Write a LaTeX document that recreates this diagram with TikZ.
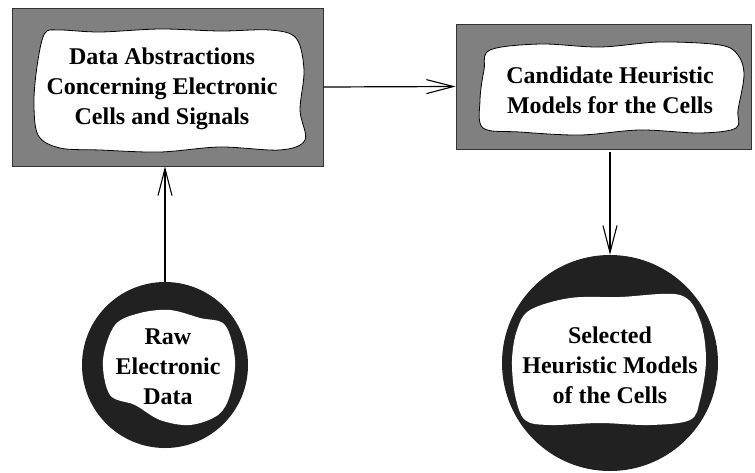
\documentclass[tikz,border=0pt]{standalone}
\usepackage{fontspec}
\setmainfont{Liberation Serif}
\usetikzlibrary{arrows.meta}
\tikzset{
  graybox/.style={draw=black!80, line width=0.8pt, fill=black!50, rectangle, inner sep=0pt},
  darkdisc/.style={fill=black!87, circle, inner sep=0pt},
  label/.style={align=center, font=\bfseries\fontsize{24}{30}\selectfont, inner sep=0pt},
  blobline/.style={draw=black, line width=0.8pt, fill=white},
  blobplain/.style={fill=white},
  arr/.style={line width=1.2pt, -{Straight Barb[length=27pt, width=14pt, line width=1.1pt]}}
}
\begin{document}
\begin{tikzpicture}[x=1pt,y=-1pt]
\useasboundingbox (0,0) rectangle (755,472);
% boxes
\node[graybox, minimum width=311pt, minimum height=158pt] (box1) at (167.5,87) {};
\node[graybox, minimum width=295pt, minimum height=125pt] (box2) at (603.5,86.5) {};
% discs
\node[darkdisc, minimum size=166pt] (c1) at (165,365) {};
\node[darkdisc, minimum size=216pt] (c2) at (610,363) {};
% blobs
\draw[blobline] plot[smooth cycle, tension=0.55] coordinates {
 (45,33) (60,30) (100,32) (160,29) (220,31) (270,30) (296,38) (304,70)
 (300,110) (305,140) (280,150) (220,147) (160,152) (100,150) (60,148)
 (38,135) (34,100) (38,60)};
\draw[blobline] plot[smooth cycle, tension=0.55] coordinates {
 (490,50) (540,44) (600,47) (660,42) (720,45) (738,55) (744,75) (738,110)
 (736,128) (700,133) (640,130) (580,135) (520,132) (483,128) (480,100) (484,70)};
\fill[blobplain] plot[smooth cycle, tension=0.55] coordinates {
 (115,325) (140,313) (170,310) (200,318) (225,325) (235,360) (230,395)
 (218,415) (190,425) (160,420) (135,405) (110,395) (103,360)};
\fill[blobplain] plot[smooth cycle, tension=0.55] coordinates {
 (530,310) (570,298) (620,297) (680,295) (700,320) (706,360) (700,400)
 (690,420) (650,425) (600,423) (550,425) (525,420) (515,395) (512,360) (517,330)};
% texts
\node[label] (t1) at (162,89) {Data Abstractions\\Concerning Electronic\\Cells and Signals};
\node[label] (t2) at (610,90) {Candidate Heuristic\\Models for the Cells};
\node[label] (t3) at (168,367) {Raw\\Electronic\\Data};
\node[label] (t4) at (610,365) {Selected\\Heuristic Models\\of the Cells};
% connectors
\draw[arr] (box1.east) -- (box2.west);
\draw[arr, shorten <=3pt] (c2.north |- box2.south) -- (c2.north);
\draw[arr] (c1.north) -- (c1.north |- box1.south);
\end{tikzpicture}
\end{document}
